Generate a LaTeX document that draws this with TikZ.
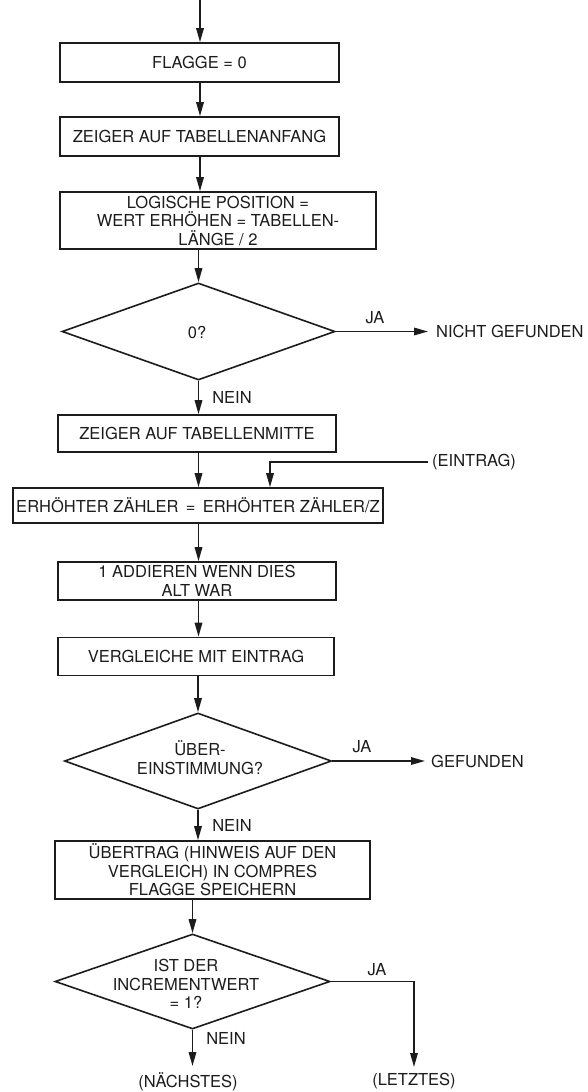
\documentclass[tikz,border=0pt]{standalone}
\usepackage{fontspec}
\setmainfont{TeX Gyre Heros}
\usetikzlibrary{arrows.meta,shapes.geometric}
\definecolor{ink}{RGB}{28,28,28}
\begin{document}
\begin{tikzpicture}[x=1pt,y=-1pt,
  font=\fontsize{16.5}{18.5}\selectfont,
  every node/.style={text=ink},
  procbox/.style={draw=ink,line width=1.6pt,rectangle,inner sep=0pt,align=center},
  decision/.style={draw=ink,line width=1.6pt,diamond,inner sep=0pt},
  flow/.style={draw=ink,line width=1.6pt,-{Triangle[length=14pt,width=7.5pt]}},
  lbl/.style={inner sep=0pt,align=center}]
\useasboundingbox (0,0) rectangle (587,1092);

% process boxes
\node[procbox,minimum width=279pt,minimum height=39pt] (b1) at (199.5,62.5) {FLAGGE = 0};
\node[procbox,minimum width=279pt,minimum height=39pt] (b2) at (199.5,136.5) {ZEIGER AUF TABELLENANFANG};
\node[procbox,minimum width=316pt,minimum height=57pt] (b3) at (218,220.5)
  {LOGISCHE POSITION =\\WERT ERHÖHEN = TABELLEN-\\LÄNGE / 2};
\node[procbox,minimum width=278pt,minimum height=37pt] (b4) at (197,433.5) {ZEIGER AUF TABELLENMITTE};
\node[procbox,minimum width=370pt,minimum height=35pt] (b5) at (198,505.5)
  {ERHÖHTER ZÄHLER \,=\, ERHÖHTER ZÄHLER/Z};
\node[procbox,minimum width=278pt,minimum height=38pt] (b6) at (197,581)
  {1 ADDIEREN WENN DIES\\ALT WAR};
\node[procbox,minimum width=276pt,minimum height=38pt] (b7) at (196,656.5) {VERGLEICHE MIT EINTRAG};
\node[procbox,minimum width=315pt,minimum height=58pt] (b8) at (212.5,870)
  {ÜBERTRAG (HINWEIS AUF DEN\\VERGLEICH) IN COMPRES\\FLAGGE SPEICHERN};

% decisions
\node[decision,minimum width=273pt,minimum height=97pt] (d1) at (198.5,331.5) {};
\node[lbl] (t1) at (197,333) {0?};
\node[decision,minimum width=267pt,minimum height=96pt] (d2) at (198,761) {};
\node[lbl] (t2) at (200,757.5) {ÜBER-\\EINSTIMMUNG?};
\node[decision,minimum width=275pt,minimum height=95pt] (d3) at (192.5,981.5) {};
\node[lbl] (t3) at (186,984) {IST DER\\INCREMENTWERT\\= 1?};

% exits and inputs
\node[anchor=west,inner xsep=8pt,inner ysep=0pt] (ng) at (428,331.5) {NICHT GEFUNDEN};
\node[anchor=west,inner xsep=6pt,inner ysep=0pt] (gf) at (425,761) {GEFUNDEN};
\node[anchor=west,inner xsep=4pt,inner ysep=0pt] (ein) at (428,462) {(EINTRAG)};
\node[anchor=north,inner xsep=0pt,inner ysep=6pt] (nx) at (188,1066) {(NÄCHSTES)};
\node[anchor=north,inner xsep=0pt,inner ysep=6pt] (lz) at (414,1067) {(LETZTES)};

% branch labels
\node[lbl] (ja1) at (375,318) {JA};
\node[lbl] (ja2) at (362,747) {JA};
\node[lbl] (ja3) at (377,970) {JA};
\node[lbl] (ne1) at (232,397) {NEIN};
\node[lbl] (ne2) at (232,825) {NEIN};
\node[lbl] (ne3) at (226,1038) {NEIN};

% spine entry and merge point
\coordinate (start) at (200,0);
\coordinate (merge) at (270,462);

% connectors
\draw[flow] (start) -- (b1.north -| start);
\draw[flow] (b1.south -| start) -- (b2.north -| start);
\draw[flow] (b2.south -| start) -- (b3.north -| start);
\draw[flow] (b3.south -| d1.north) -- (d1.north);
\draw[flow] (d1.east) -- (ng.west);
\draw[flow] (d1.south) -- (b4.north -| d1.south);
\draw[flow] (b4.south -| d1.south) -- (b5.north -| d1.south);
\draw[flow] (ein.west) -| (b5.north -| merge);
\draw[flow] (b5.south -| d1.south) -- (b6.north -| d1.south);
\draw[flow] (b6.south -| d1.south) -- (b7.north -| d1.south);
\draw[flow] (b7.south -| d2.north) -- (d2.north);
\draw[flow] (d2.east) -- (gf.west);
\draw[flow] (d2.south) -- (b8.north -| d2.south);
\draw[flow] (b8.south -| d3.north) -- (d3.north);
\draw[flow] (d3.south) -- (nx.north -| d3.south);
\draw[flow] (d3.east) -| (lz.north);
\end{tikzpicture}
\end{document}
